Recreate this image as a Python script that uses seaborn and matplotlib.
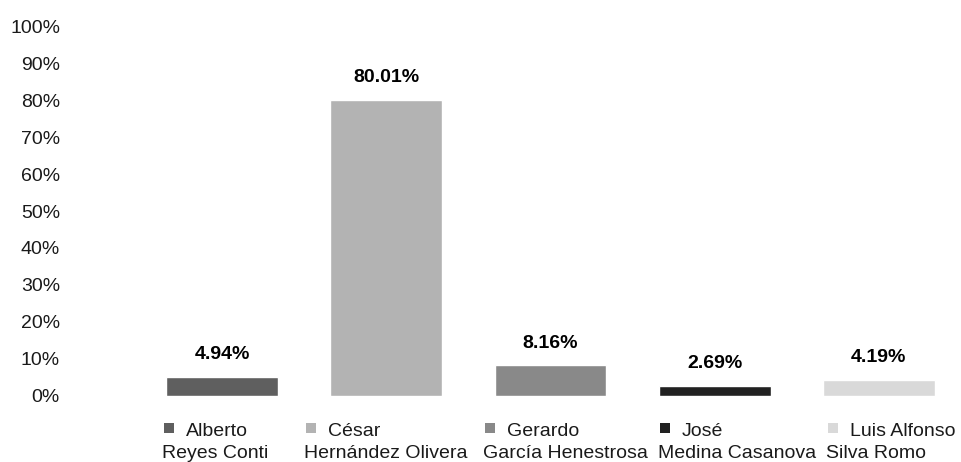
import matplotlib
matplotlib.use('Agg')
import matplotlib.pyplot as plt
import matplotlib.patches as mpatches
import seaborn as sns
import pandas as pd

# datos
nombres = ['Alberto', 'César', 'Gerardo', 'José', 'Luis Alfonso']
apellidos = ['Reyes Conti', 'Hernández Olivera', 'García Henestrosa',
             'Medina Casanova', 'Silva Romo']
porcentajes = [4.94, 80.01, 8.16, 2.69, 4.19]
colores = ['#5f5f5f', '#b3b3b3', '#898989', '#212121', '#d9d9d9']
yticks = list(range(0, 101, 10))

candidatos = [n + ' ' + a for n, a in zip(nombres, apellidos)]
df = pd.DataFrame({'candidato': candidatos, 'pct': porcentajes})

sns.set_theme(style='white')
plt.rcParams['font.family'] = ['Liberation Sans', 'DejaVu Sans']
fs = 14

W, H = 961, 462
fig = plt.figure(figsize=(W / 100, H / 100), dpi=100)
ax = fig.add_axes([140 / W, (H - 395.5) / H, 821 / W, 369 / H])

sns.barplot(data=df, x='candidato', y='pct', hue='candidato',
            palette=colores, order=candidatos, hue_order=candidatos,
            width=0.682, errorbar=None, legend=False, saturation=1, ax=ax)

for cont in ax.containers:
    ax.bar_label(cont, labels=[f'{v:.2f}%' for v in cont.datavalues],
                 padding=10, fontsize=fs, fontweight='bold', color='black')

ax.set_xlim(-0.5, 4.5)
ax.set_ylim(0, 100)
ax.set_yticks(yticks)
ax.set_yticklabels([f'{t}%' for t in yticks], fontsize=fs, color='#1a1a1a')
ax.tick_params(axis='y', length=0, pad=57.6)
ax.set_xticks([])
ax.set_xlabel('')
ax.set_ylabel('')
sns.despine(ax=ax, left=True, bottom=True)
ax.grid(False)

# leyenda en dos lineas (cuadro + nombre, apellidos debajo)
leg_x = [164, 306, 485, 660, 828]
for i in range(len(nombres)):
    x0 = leg_x[i]
    fig.add_artist(mpatches.Rectangle((x0 / W, (H - 433) / H), 10 / W, 10 / H,
                                      transform=fig.transFigure,
                                      color=colores[i], lw=0))
    fig.text((x0 + 22) / W, (H - 436) / H, nombres[i], fontsize=fs,
             va='baseline', ha='left', color='#1a1a1a')
    fig.text((x0 - 2) / W, (H - 458) / H, apellidos[i], fontsize=fs,
             va='baseline', ha='left', color='#1a1a1a')

fig.savefig('out.png', dpi=100, facecolor='white')
